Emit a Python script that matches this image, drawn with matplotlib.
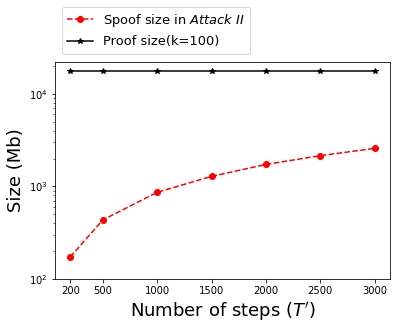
import matplotlib
matplotlib.use("Agg")
import matplotlib.pyplot as plt

steps = [200, 500, 1000, 1500, 2000, 2500, 3000]
spoof_size = [173, 435, 865, 1285, 1730, 2150, 2580]
proof_size = [17600, 17600, 17600, 17600, 17600, 17600, 17600]

fig = plt.figure(figsize=(397 / 72, 330 / 72), dpi=72)
ax = fig.add_axes([0.1385, 0.1545, 0.8435, 0.657])

ax.plot(steps, spoof_size, "r--o", label=r"Spoof size in $\it{Attack\ II}$")
ax.plot(steps, proof_size, "k-*", label="Proof size(k=100)")
ax.set_yscale("log")
ax.set_ylim(100, 22000)
ax.set_xticks(steps)
ax.tick_params(labelsize=10)
ax.set_xlabel(r"Number of steps ($T'$)", fontsize=18)
ax.set_ylabel("Size (Mb)", fontsize=18)
ax.legend(loc="lower left", bbox_to_anchor=(0.02, 1.04), borderaxespad=0, fontsize=13)

fig.savefig("out.png", dpi=72)
